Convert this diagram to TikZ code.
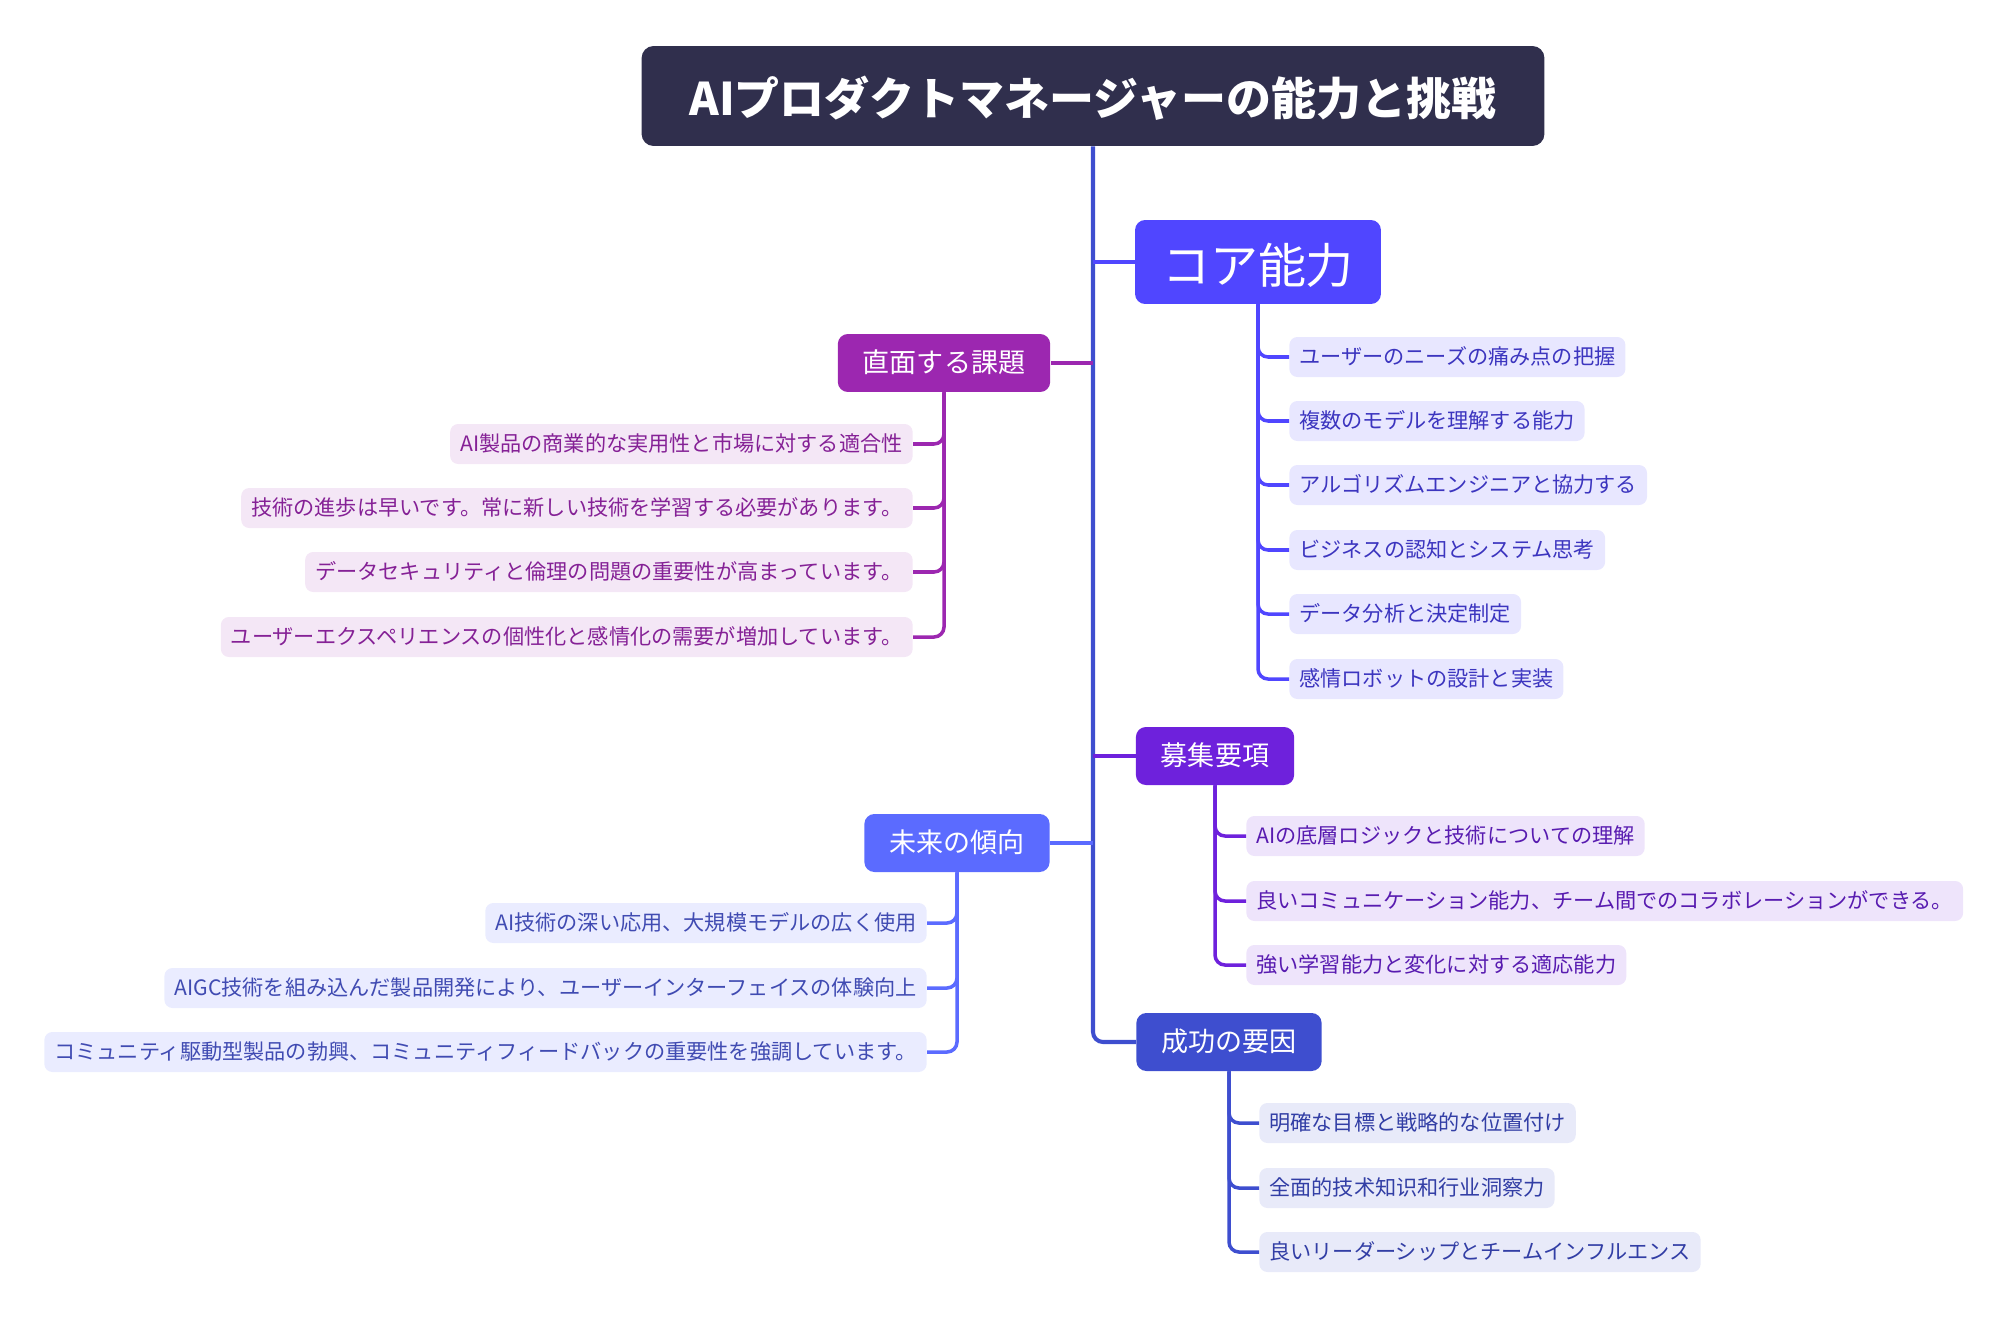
\documentclass[tikz,border=0pt]{standalone}
\usepackage{xcolor}
\usepackage{fontspec}
\setmainfont{Noto Sans CJK JP}
\usetikzlibrary{positioning}

\definecolor{titlebg}{HTML}{302F4D}
\definecolor{corecol}{HTML}{5046FF}
\definecolor{chalcol}{HTML}{9C27B0}
\definecolor{recrcol}{HTML}{6E21DC}
\definecolor{trendcol}{HTML}{5B6BFF}
\definecolor{succcol}{HTML}{3E4ECF}

\newcommand\leaffont{\fontsize{12.05pt}{14pt}\selectfont}
\newcommand\branchfont{\fontsize{15.4pt}{18pt}\selectfont}

\begin{document}
\begin{tikzpicture}[x=0.02cm,y=-0.02cm,
  branch/.style={text=white, font=\branchfont, inner xsep=0.5cm, minimum height=1.16cm,
    text height=13.6pt, text depth=2.3pt, rounded corners=0.2cm},
  leaf/.style={font=\leaffont, inner xsep=0.2cm, minimum height=0.8cm,
    text height=10.6pt, text depth=1.8pt, rounded corners=0.16cm},
  link/.style={line width=2pt, rounded corners=0.2cm}]
  \useasboundingbox (0,0) rectangle (2005,1332);

  % root
  \node[fill=titlebg, text=white, rounded corners=0.24cm, minimum width=18.06cm,
    minimum height=2cm, text height=25.5pt, text depth=3.8pt,
    font=\fontsize{25.6pt}{30pt}\selectfont\bfseries]
    (title) at (1093,96) {AIプロダクトマネージャーの能力と挑戦};

  % main branches
  \node[branch, fill=corecol, inner xsep=0.54cm, minimum height=1.68cm,
    text height=28.3pt, text depth=4.1pt,
    font=\fontsize{27.3pt}{32pt}\selectfont] (core) at (1258,262) {コア能力};
  \node[branch, fill=chalcol] (chal) at (944,363) {直面する課題};
  \node[branch, fill=recrcol] (recr) at (1215,756) {募集要項};
  \node[branch, fill=trendcol] (trend) at (957,843) {未来の傾向};
  \node[branch, fill=succcol] (succ) at (1229,1042) {成功の要因};

  % trunk
  \draw[link, line width=2.3pt, succcol] (title.south) |- (succ.west);
  \draw[link, corecol] (title.south |- core.west) -- (core.west);
  \draw[link, chalcol] (title.south |- chal.east) -- (chal.east);
  \draw[link, recrcol] (title.south |- recr.west) -- (recr.west);
  \draw[link, trendcol] (title.south |- trend.east) -- (trend.east);

  % core skills
  \foreach \name/\y/\txt in {c1/357/ユーザーのニーズの痛み点の把握,
      c2/421/複数のモデルを理解する能力,
      c3/485/アルゴリズムエンジニアと協力する,
      c4/550/ビジネスの認知とシステム思考,
      c5/614/データ分析と決定制定,
      c6/679/感情ロボットの設計と実装}{
    \node[leaf, fill=corecol!13, text=corecol!75!black, anchor=west] (\name) at (1289,\y) {\txt};
    \draw[link, corecol] (core.south) |- (\name.west);
  }

  % challenges
  \foreach \name/\y/\txt in {h1/444/AI製品の商業的な実用性と市場に対する適合性,
      h2/508/技術の進歩は早いです。常に新しい技術を学習する必要があります。,
      h3/572/データセキュリティと倫理の問題の重要性が高まっています。,
      h4/637/ユーザーエクスペリエンスの個性化と感情化の需要が増加しています。}{
    \node[leaf, fill=chalcol!11, text=chalcol!85!black, anchor=east] (\name) at (913,\y) {\txt};
    \draw[link, chalcol] (chal.south) |- (\name.east);
  }

  % recruiting
  \foreach \name/\y/\txt in {r1/836/AIの底層ロジックと技術についての理解,
      r2/901/良いコミュニケーション能力、チーム間でのコラボレーションができる。,
      r3/965/強い学習能力と変化に対する適応能力}{
    \node[leaf, fill=recrcol!12, text=recrcol!80!black, anchor=west] (\name) at (1246,\y) {\txt};
    \draw[link, recrcol] (recr.south) |- (\name.west);
  }

  % trends
  \foreach \name/\y/\txt in {t1/923/AI技術の深い応用、大規模モデルの広く使用,
      t2/988/AIGC技術を組み込んだ製品開発により、ユーザーインターフェイスの体験向上,
      t3/1052/コミュニティ駆動型製品の勃興、コミュニティフィードバックの重要性を強調しています。}{
    \node[leaf, fill=trendcol!13, text=trendcol!70!black, anchor=east] (\name) at (927,\y) {\txt};
    \draw[link, trendcol] (trend.south) |- (\name.east);
  }

  % success factors
  \foreach \name/\y/\txt in {s1/1123/明確な目標と戦略的な位置付け,
      s2/1188/全面的技术知识和行业洞察力,
      s3/1252/良いリーダーシップとチームインフルエンス}{
    \node[leaf, fill=succcol!12, text=succcol!80!black, anchor=west] (\name) at (1259,\y) {\txt};
    \draw[link, succcol] (succ.south) |- (\name.west);
  }
\end{tikzpicture}
\end{document}
